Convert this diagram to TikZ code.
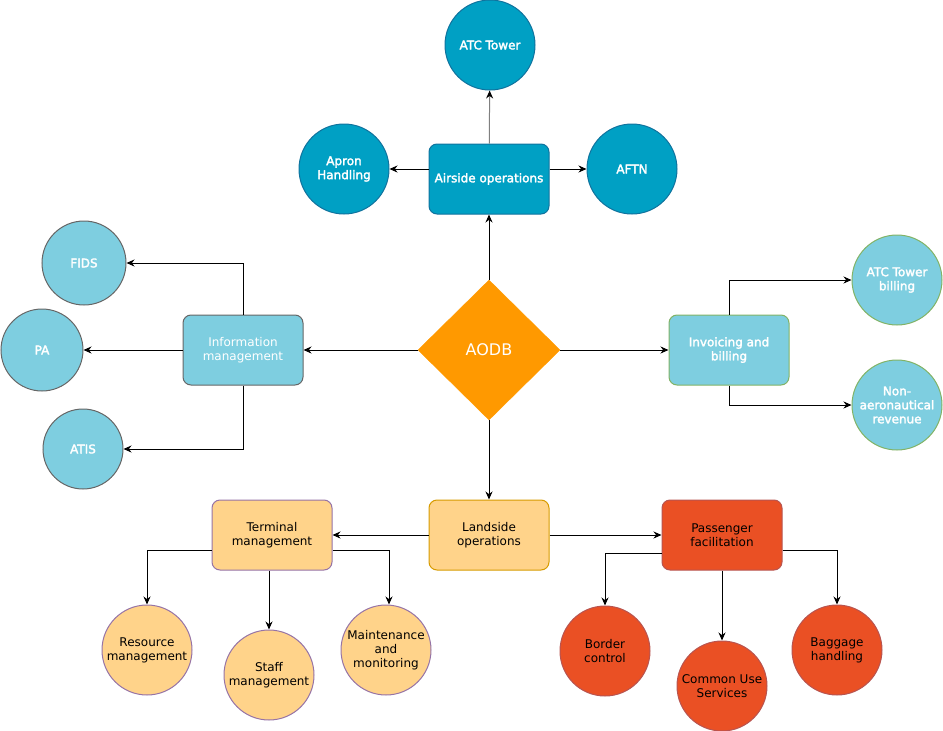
\documentclass[tikz,border=0pt]{standalone}
\usepackage{fontspec}
\setmainfont{DejaVu Sans}[BoldFont={DejaVu Sans},BoldFeatures={FakeBold=2.4}]
\usetikzlibrary{shapes.geometric,arrows.meta,positioning}

\definecolor{airblue}{RGB}{0,160,196}
\definecolor{airline}{RGB}{16,115,158}
\definecolor{lightblue}{RGB}{126,206,224}
\definecolor{greyline}{RGB}{102,102,102}
\definecolor{greenline}{RGB}{130,179,102}
\definecolor{aodbfill}{RGB}{255,153,0}
\definecolor{peach}{RGB}{255,211,138}
\definecolor{peachline}{RGB}{215,155,0}
\definecolor{purpline}{RGB}{150,115,166}
\definecolor{redfill}{RGB}{234,80,36}
\definecolor{redline}{RGB}{184,84,80}

\begin{document}
\begin{tikzpicture}[x=1pt, y=-1pt,
    every node/.style={font=\fontsize{12}{14}\selectfont},
    box/.style={draw, rounded corners=8pt, minimum width=120pt, minimum height=70pt, align=center, line width=1pt},
    circ/.style={draw, circle, minimum size=90pt, inner sep=1pt, align=center, line width=1pt},
    arr/.style={line width=1pt, -{Stealth[length=8pt,width=7pt,color=black]}}]
    \useasboundingbox (0,0) rectangle (943,731);

    % centre
    \node (aodb) [draw=aodbfill, fill=aodbfill, diamond, minimum width=142pt, minimum height=140pt, inner sep=0pt, text=white, font=\fontsize{16}{18}\selectfont] at (489,350) {AODB};

    % airside
    \node (airside) [box, fill=airblue, draw=airline, text=white, font=\fontsize{12}{14}\selectfont\bfseries] at (489,179) {Airside operations};
    \node (tower) [circ, fill=airblue, draw=airline, text=white, font=\fontsize{12}{14}\selectfont\bfseries] at (490,45) {ATC Tower};
    \node (apron) [circ, fill=airblue, draw=airline, text=white, font=\fontsize{12}{14}\selectfont\bfseries] at (344,169) {Apron\\Handling};
    \node (aftn) [circ, fill=airblue, draw=airline, text=white, font=\fontsize{12}{14}\selectfont\bfseries] at (632,169) {AFTN};

    % information
    \node (info) [box, fill=lightblue, draw=greyline, text=white] at (243,350) {Information\\management};
    \node (fids) [circ, fill=lightblue, draw=greyline, text=white, font=\fontsize{12}{14}\selectfont\bfseries, minimum size=84pt] at (84,263) {FIDS};
    \node (pa) [circ, fill=lightblue, draw=greyline, text=white, font=\fontsize{12}{14}\selectfont\bfseries, minimum size=82pt] at (42,350) {PA};
    \node (atis) [circ, fill=lightblue, draw=greyline, text=white, font=\fontsize{12}{14}\selectfont\bfseries, minimum size=80pt] at (83,449) {ATIS};

    % billing
    \node (invoice) [box, fill=lightblue, draw=greenline, text=white, font=\fontsize{12}{14}\selectfont\bfseries] at (729,350) {Invoicing and\\billing};
    \node (towerbill) [circ, fill=lightblue, draw=greenline, text=white, font=\fontsize{12}{14}\selectfont\bfseries] at (897,280) {ATC Tower\\billing};
    \node (nonaero) [circ, fill=lightblue, draw=greenline, text=white, font=\fontsize{12}{14}\selectfont\bfseries] at (897,405) {Non-\\aeronautical\\revenue};

    % landside
    \node (landside) [box, fill=peach, draw=peachline] at (489,535) {Landside\\operations};
    \node (terminal) [box, fill=peach, draw=purpline] at (272,535) {Terminal\\management};
    \node (resource) [circ, fill=peach, draw=purpline] at (147,650) {Resource\\management};
    \node (staff) [circ, fill=peach, draw=purpline] at (269,675) {Staff\\management};
    \node (maint) [circ, fill=peach, draw=purpline] at (386,650) {Maintenance\\and\\monitoring};

    \node (passenger) [box, fill=redfill, draw=redline] at (722,535) {Passenger\\facilitation};
    \node (border) [circ, fill=redfill, draw=redline] at (605,651) {Border\\control};
    \node (common) [circ, fill=redfill, draw=redline] at (722,686) {Common Use\\Services};
    \node (baggage) [circ, fill=redfill, draw=redline] at (837,650) {Baggage\\handling};

    \draw [arr] (aodb) -- (airside);
    \draw [arr, draw=gray] (airside) -- (tower);
    \draw [arr] (airside.west |- apron.east) -- (apron.east);
    \draw [arr] (airside.east |- aftn.west) -- (aftn.west);

    \draw [arr] (aodb) -- (info);
    \draw [arr] (info.north) |- (fids.east);
    \draw [arr] (info) -- (pa);
    \draw [arr] (info.south) |- (atis.east);

    \draw [arr] (aodb) -- (invoice);
    \draw [arr] (invoice.north) |- (towerbill.west);
    \draw [arr] (invoice.south) |- (nonaero.west);

    \draw [arr] (aodb) -- (landside);
    \draw [arr] (landside) -- (terminal);
    \draw [arr] (landside) -- (passenger);

    \draw [arr] ([yshift=-15pt]terminal.west) -| (resource.north);
    \draw [arr] (terminal.south -| staff.north) -- (staff.north);
    \draw [arr] ([yshift=-15pt]terminal.east) -| ([xshift=3pt]maint.north);

    \draw [arr] ([yshift=-18pt]passenger.west) -| (border.north);
    \draw [arr] (passenger) -- (common);
    \draw [arr] ([yshift=-15pt]passenger.east) -| (baggage.north);
\end{tikzpicture}
\end{document}
